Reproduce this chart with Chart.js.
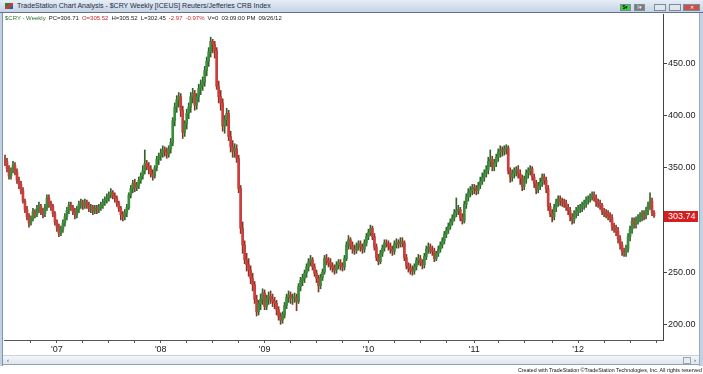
<!DOCTYPE html>
<html>
<head>
<meta charset="utf-8">
<script src="https://cdn.jsdelivr.net/npm/chart.js@4.4.1/dist/chart.umd.min.js"></script>
<style>
  html, body { margin: 0; padding: 0; width: 703px; height: 374px; overflow: hidden; background: #fff; }
  body { font-family: "Liberation Sans", Arial, sans-serif; position: relative; }
  #chart { position: absolute; left: 0; top: 0; }
  .titlebar { position: absolute; left: 0; top: 0; width: 703px; height: 12px;
    background: linear-gradient(#e6edf6, #c5d4e5); border-bottom: 1px solid #62738a; }
  .titlebar .icon { position: absolute; left: 5px; top: 3px; width: 8px; height: 6px;
    background: linear-gradient(135deg, #3a7a3a 0 40%, #c83a3a 40% 70%, #2b5fa8 70%); }
  .titlebar .txt { position: absolute; left: 17px; top: 1px; font-size: 7px; line-height: 10px; color: #1b2c44; white-space: nowrap; }
  .btn { position: absolute; top: 4px; height: 7px; border: 1px solid #7d8a99; box-sizing: border-box; font-size: 5px; line-height: 5px; text-align: center; }
  .frameL { position: absolute; left: 0; top: 13px; width: 3px; height: 353px; background: #c3d2e3; border-right: 1px solid #7f93ab; box-sizing: border-box; }
  .frameR { position: absolute; left: 699px; top: 13px; width: 4px; height: 353px; background: #c3d2e3; border-left: 1px solid #9aabbf; box-sizing: border-box; }
  .info { position: absolute; left: 5px; top: 15px; font-size: 6px; line-height: 7px; white-space: nowrap; color: #222; }
  .info span { margin-right: 3px; }
  .scroll { position: absolute; left: 3px; top: 355px; width: 696px; height: 10px;
    background: linear-gradient(#f4f6f9, #dfe5ec); border-top: 1px solid #c8d0da; border-bottom: 1px solid #8ea2b9; box-sizing: border-box; }
  .scroll .thumb { position: absolute; left: 680px; top: 1px; width: 8px; height: 7px; background: #e8ecf1; border: 1px solid #9aa6b4; box-sizing: border-box; }
  .scroll .arr { position: absolute; top: 0px; font-size: 6px; line-height: 8px; color: #333; }
  .footer { position: absolute; right: 1px; top: 366px; font-size: 5.3px; line-height: 8px; color: #111; white-space: nowrap; }
</style>
</head>
<body>
<canvas id="chart" width="703" height="374"></canvas>
<div class="titlebar">
  <div class="icon"></div>
  <div class="txt">TradeStation Chart Analysis - $CRY Weekly [ICEUS] Reuters/Jefferies CRB Index</div>
  <div class="btn" style="left:620px;width:11px;background:#3ad43a;">$▾</div>
  <div class="btn" style="left:634px;width:11px;background:#7c7c7c;color:#fff;">I▾</div>
  <div class="btn" style="left:654px;width:12px;background:#dfe6ee;"></div>
  <div class="btn" style="left:669px;width:12px;background:#dfe6ee;"></div>
  <div class="btn" style="left:683px;width:17px;background:#c9504a;color:#fff;">✕</div>
</div>
<div class="frameL"></div>
<div class="frameR"></div>
<div class="info">
  <span style="color:#2f6e2f">$CRY - Weekly</span><span>PC=306.71</span><span style="color:#c62828">O=305.52</span><span>H=305.52</span><span>L=302.45</span><span style="color:#c62828">-2.97</span><span style="color:#c62828">-0.97%</span><span>V=0</span><span>03:09:00 PM</span><span>09/26/12</span>
</div>
<div class="scroll">
  <span class="arr" style="left:4px">‹</span>
  <div class="thumb"></div>
  <span class="arr" style="left:691px">›</span>
</div>
<div class="footer">Created with TradeStation ©TradeStation Technologies, Inc. All rights reserved</div>

<script>
// weekly $CRY bars, first bar = week of 2006-07-07
const firstWeek = '2006-07-07';
const extraSlots = 4; // empty weeks right of the last bar

const opens = [
  358,356,349,342,348,352,346,338,334,328,
  318,310,303,297,301,308,305,311,313,308,
  306,312,321,316,313,306,298,293,287,291,
  297,303,309,314,312,308,305,310,315,316,
  314,317,314,311,312,309,311,310,312,314,
  317,319,321,324,326,323,321,316,311,305,
  303,307,312,324,330,335,331,333,338,342,
  347,354,351,349,344,342,350,358,361,364,
  367,365,363,368,374,395,408,415,418,405,
  384,392,402,408,418,421,410,418,426,429,
  432,443,452,461,471,468,462,428,418,412,
  390,396,402,380,370,366,368,359,330,292,
  276,262,257,252,244,238,224,212,220,224,
  230,217,225,227,224,222,220,214,208,204,
  209,218,226,228,225,225,226,222,236,242,
  244,249,255,260,262,255,249,244,237,245,
  250,263,261,259,256,254,252,257,259,256,
  255,263,276,281,275,272,271,275,277,274,
  272,278,284,288,292,284,274,264,260,268,
  273,278,277,275,272,270,277,278,277,279,
  278,264,256,254,252,251,255,261,263,259,
  257,265,272,274,271,270,263,268,272,276,
  280,286,290,294,298,302,307,309,310,302,
  299,315,322,326,328,331,330,328,333,337,
  341,345,348,356,358,351,355,360,365,367,
  366,368,369,347,341,345,347,348,344,340,
  332,339,345,347,349,341,335,329,333,336,
  341,338,330,313,306,303,312,317,320,318,
  317,316,312,309,303,300,306,308,311,312,
  314,316,319,320,322,324,321,317,316,314,
  308,307,306,304,302,294,292,289,282,276,
  270,269,272,284,291,299,296,300,302,303,
  306,304,309,314,318,307
];

const highs = [
  362,359,352,350,356,355,349,341,337,331,
  320,313,306,304,311,310,314,317,315,311,
  315,324,324,318,315,308,300,296,294,300,
  306,312,317,317,314,311,313,318,320,319,
  320,319,317,315,314,314,314,315,317,320,
  322,325,327,330,328,326,323,318,313,308,
  310,315,326,333,338,339,336,341,345,352,
  367,357,355,352,348,352,361,364,368,371,
  370,369,371,378,398,412,419,422,421,409,
  395,406,412,422,426,424,421,430,434,437,
  447,456,465,475,473,471,465,433,424,416,
  400,407,405,385,376,373,372,362,333,298,
  280,268,263,256,249,241,228,223,229,234,
  233,228,231,232,229,226,223,217,211,212,
  221,229,232,231,229,230,229,239,245,248,
  252,258,263,266,264,258,252,247,248,253,
  266,267,264,263,259,257,260,262,262,259,
  266,279,285,283,279,276,278,280,280,277,
  281,287,291,295,294,287,277,267,271,276,
  281,281,280,278,275,280,282,281,283,283,
  280,267,259,258,256,258,264,267,266,262,
  268,275,278,277,275,273,270,275,279,283,
  289,293,297,301,305,310,321,314,312,306,
  318,325,330,332,334,334,333,336,341,345,
  348,352,360,367,361,358,363,368,371,370,
  371,372,371,350,348,350,351,352,348,343,
  342,348,350,352,351,344,338,336,340,344,
  344,341,333,316,310,315,320,323,323,321,
  320,319,315,312,306,309,312,314,315,317,
  319,322,323,325,327,327,324,320,319,316,
  311,310,309,307,305,297,295,293,285,279,
  273,276,287,294,302,302,303,305,307,309,
  309,312,317,326,321,309
];

const lows = [
  352,346,339,339,345,343,335,330,325,316,
  307,300,293,295,299,302,303,307,305,302,
  303,309,312,309,303,295,289,284,285,288,
  294,300,306,309,305,301,302,307,311,310,
  311,311,308,307,305,306,306,307,309,311,
  314,316,318,321,320,317,313,308,300,299,
  300,303,310,321,326,327,328,330,335,339,
  344,348,344,341,338,340,347,353,357,360,
  361,359,360,364,371,390,403,408,399,378,
  380,387,397,403,412,405,406,413,420,424,
  428,438,447,456,460,455,425,412,405,385,
  383,390,376,365,360,360,355,326,287,268,
  258,251,246,239,232,220,208,209,214,219,
  214,214,219,220,217,215,209,204,200,201,
  206,215,221,220,219,221,213,220,232,237,
  240,245,251,256,252,246,240,231,234,242,
  248,257,255,252,250,248,249,253,252,251,
  252,261,272,272,268,267,268,271,270,268,
  269,275,281,285,281,271,261,257,258,265,
  270,274,271,268,266,267,273,273,274,274,
  261,253,250,248,247,248,252,257,256,253,
  254,262,268,268,266,260,261,265,269,273,
  277,283,287,291,295,299,303,305,299,296,
  297,311,318,322,324,325,324,325,330,334,
  337,341,344,351,347,347,351,356,360,361,
  362,363,344,336,337,340,342,340,334,328,
  329,335,340,343,338,331,325,326,329,332,
  334,326,309,303,298,300,308,313,314,313,
  312,309,305,299,296,297,302,304,307,308,
  310,312,315,317,319,318,313,312,310,305,
  303,302,300,298,290,288,285,278,272,266,
  265,265,269,280,287,292,292,296,298,299,
  300,301,305,310,304,302.45
];

const closes = [
  356,349,342,348,352,346,338,334,328,318,
  310,303,297,301,308,305,311,313,308,306,
  312,321,316,313,306,298,293,287,291,297,
  303,309,314,312,308,305,310,315,316,314,
  317,314,311,312,309,311,310,312,314,317,
  319,321,324,326,323,321,316,311,305,303,
  307,312,324,330,335,331,333,338,342,347,
  354,351,349,344,342,350,358,361,364,367,
  365,363,368,374,395,408,415,418,405,384,
  392,402,408,418,421,410,418,426,429,432,
  443,452,461,471,468,462,428,418,412,390,
  396,402,380,370,366,368,359,330,292,276,
  262,257,252,244,238,224,212,220,224,230,
  217,225,227,224,222,220,214,208,204,209,
  218,226,228,225,225,226,222,236,242,244,
  249,255,260,262,255,249,244,237,245,250,
  263,261,259,256,254,252,257,259,256,255,
  263,276,281,275,272,271,275,277,274,272,
  278,284,288,292,284,274,264,260,268,273,
  278,277,275,272,270,277,278,277,279,278,
  264,256,254,252,251,255,261,263,259,257,
  265,272,274,271,270,263,268,272,276,280,
  286,290,294,298,302,307,309,310,302,299,
  315,322,326,328,331,330,328,333,337,341,
  345,348,356,358,351,355,360,365,367,366,
  368,369,347,341,345,347,348,344,340,332,
  339,345,347,349,341,335,329,333,336,341,
  338,330,313,306,303,312,317,320,318,317,
  316,312,309,303,300,306,308,311,312,314,
  316,319,320,322,324,321,317,316,314,308,
  307,306,304,302,294,292,289,282,276,270,
  269,272,284,291,299,296,300,302,303,306,
  304,309,314,318,307,303.74
];

const labelYears = [2007, 2008, 2009, 2010, 2011, 2012];
const yearLabels = ["'07", "'08", "'09", "'10", "'11", "'12"];

const upColor = '#3b8c3b';
const downColor = '#cf3c3c';
const upWick = '#35602c';
const downWick = '#7d3a24';

// week dates for the category axis
const weekDates = [];
for (let i = 0; i < closes.length + extraSlots; i++) {
  const d = new Date(firstWeek + 'T00:00:00Z');
  d.setUTCDate(d.getUTCDate() + 7 * i);
  weekDates.push(d);
}
const labels = weekDates.map(d => d.toISOString().slice(0, 10));

function tickKind (i) {
  const d = weekDates[i];
  if (!d || i === 0) return null;
  const prev = weekDates[i - 1];
  if (d.getUTCFullYear() !== prev.getUTCFullYear()) return 'year';
  if (d.getUTCMonth() !== prev.getUTCMonth() && d.getUTCMonth() % 3 === 0) return 'quarter';
  return null;
}

const lastPrice = closes[closes.length - 1];

const priceTag = {
  id: 'priceTag',
  afterDraw (chart) {
    const y = chart.scales.y;
    const ctx = chart.ctx;
    const py = y.getPixelForValue(lastPrice);
    ctx.save();
    ctx.fillStyle = '#d41f1f';
    ctx.fillRect(y.left + 1, Math.round(py) - 5, 34, 11);
    ctx.fillStyle = '#fff';
    ctx.font = '9px "Liberation Sans", Arial, sans-serif';
    ctx.textBaseline = 'middle';
    ctx.fillText(lastPrice.toFixed(2), y.left + 5, Math.round(py) + 0.5);
    ctx.restore();
  }
};

const isUp = closes.map((c, i) => c >= opens[i]);
const bodies = opens.map((o, i) => [o, closes[i]]);
const wicks = lows.map((l, i) => [l, highs[i]]);

new Chart(document.getElementById('chart'), {
  type: 'bar',
  data: {
    labels: labels,
    datasets: [
      {
        label: 'body',
        data: bodies,
        order: 0,
        grouped: false,
        barThickness: 2,
        minBarLength: 1,
        borderWidth: 0,
        backgroundColor: isUp.map(u => u ? upColor : downColor)
      },
      {
        label: 'range',
        data: wicks,
        order: 1,
        grouped: false,
        barThickness: 1,
        borderWidth: 0,
        backgroundColor: isUp.map(u => u ? upWick : downWick)
      }
    ]
  },
  options: {
    responsive: false,
    animation: false,
    layout: { padding: { left: 4, top: 14, right: 5, bottom: 19 } },
    plugins: { legend: { display: false }, tooltip: { enabled: false } },
    scales: {
      x: {
        type: 'category',
        grid: {
          drawOnChartArea: false,
          drawTicks: true,
          tickLength: 3,
          offset: false,
          tickColor: c => tickKind(c.index) ? '#555' : 'rgba(0,0,0,0)'
        },
        border: { display: true, color: '#555' },
        ticks: {
          autoSkip: false,
          maxRotation: 0,
          padding: 1,
          color: '#222',
          font: { family: '"Liberation Sans", Arial, sans-serif', size: 9 },
          callback: (v, i) => {
            if (tickKind(i) !== 'year') return '';
            const k = labelYears.indexOf(weekDates[i].getUTCFullYear());
            return k >= 0 ? yearLabels[k] : '';
          }
        },
        afterFit: s => { s.height = 15; }
      },
      y: {
        position: 'right',
        min: 185,
        max: 497.2,
        grid: { drawOnChartArea: false, drawTicks: true, tickLength: 4, tickColor: '#444' },
        border: { display: true, color: '#444' },
        ticks: {
          stepSize: 50,
          includeBounds: false,
          padding: 1,
          color: '#222',
          font: { family: '"Liberation Sans", Arial, sans-serif', size: 9 },
          callback: v => v.toFixed(2)
        },
        afterFit: s => { s.width = 35; }
      }
    }
  },
  plugins: [priceTag]
});
</script>
</body>
</html>
